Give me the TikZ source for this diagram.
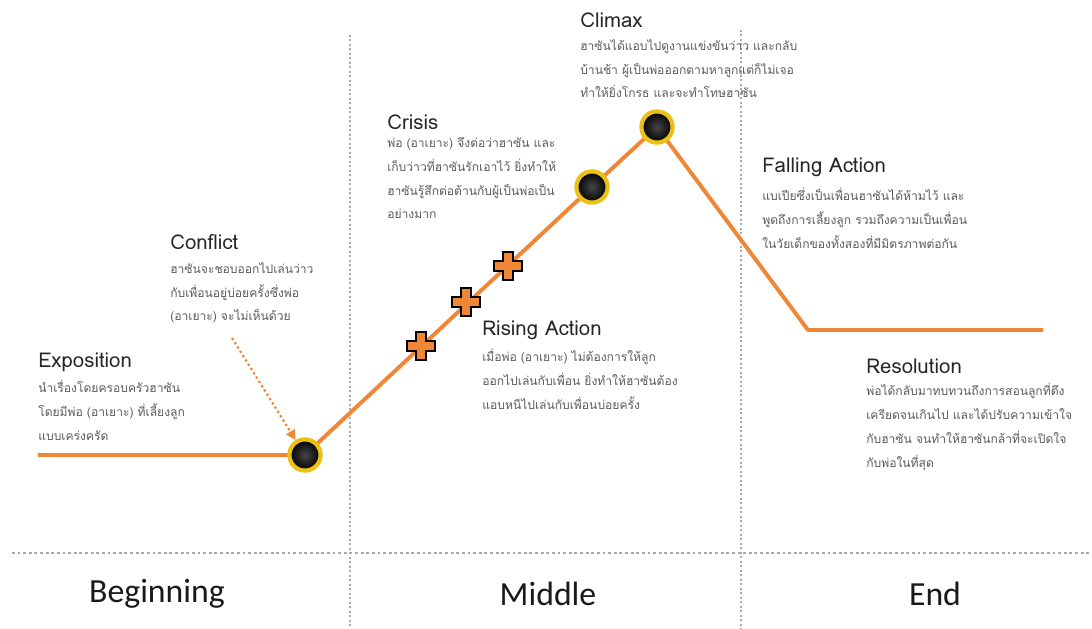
\documentclass[tikz,border=0pt]{standalone}
\usepackage{fontspec}
\setmainfont{Carlito}
\newfontfamily\thaifont[Script=Thai]{Loma}
\usepackage{xcolor}
\usetikzlibrary{shapes,arrows.meta}
\definecolor{plotorange}{RGB}{240,135,55}
\definecolor{ringgold}{RGB}{236,192,20}
\definecolor{guidegray}{RGB}{170,170,170}
\definecolor{bodygray}{RGB}{90,90,90}
\tikzstyle{head} = [anchor=west, inner sep=0pt, font=\thaifont\fontsize{14.5}{16}\selectfont, text=black!85]
\tikzstyle{note} = [anchor=north west, inner sep=0pt, align=left, font=\thaifont\fontsize{8.6}{17}\selectfont, text=bodygray]
\tikzstyle{part} = [inner sep=0pt, font=\fontsize{24}{28}\selectfont, text=black!90]
\tikzstyle{dot} = [circle, draw=ringgold, line width=3pt, minimum size=0.78cm, inner color=gray!55!black, outer color=black]
\tikzstyle{plotline} = [draw=plotorange, line width=2.8pt, line join=round]
\tikzstyle{guide} = [draw=guidegray, dotted, line width=1.2pt]
\tikzstyle{cross} = [draw=black, fill=plotorange, line width=1.8pt, line join=miter]
\tikzstyle{hint} = [draw=plotorange, dotted, line width=1.6pt, -{Triangle[length=7pt,width=7pt]}]

\begin{document}
\begin{tikzpicture}[x=0.025cm, y=-0.025cm]
\useasboundingbox (0,0) rectangle (1092,629);
% guides
\draw [guide] (350,35) -- (350,629);
\draw [guide] (741,30) -- (741,629);
\draw [guide, line width=2pt] (12,553) -- (1092,553);
\node [part] (beginning) at (157,594) {Beginning};
\node [part] (middle) at (548,594) {Middle};
\node [part] (end) at (935,594) {End};
% plot
\coordinate (start) at (38,455);
\coordinate (p-conflict) at (305,455);
\coordinate (p-crisis) at (592,187);
\coordinate (p-climax) at (657,127);
\coordinate (p-fall) at (808,330);
\coordinate (stop) at (1043,330);
\path [plotline] (start) -- (p-conflict) -- (p-crisis) -- (p-climax) -- (p-fall) -- (stop);
\foreach \cx/\cy in {421/346, 466/302, 508/266}
  \draw [cross, shift={(\cx,\cy)}] (-5,-14) -- (5,-14) -- (5,-5) -- (14,-5) -- (14,5) -- (5,5) -- (5,14) -- (-5,14) -- (-5,5) -- (-14,5) -- (-14,-5) -- (-5,-5) -- cycle;
\node [dot] (conflict-dot) at (p-conflict) {};
\node [dot] (crisis-dot) at (p-crisis) {};
\node [dot] (climax-dot) at (p-climax) {};
\coordinate (conflict-tail) at (232,338);
\path [hint] (conflict-tail) -- (conflict-dot);
% labels
\node [head] (exposition) at (38,362) {Exposition};
\node [note] (exposition-text) at (38,380) {นำเรื่องโดยครอบครัวฮาซัน\\โดยมีพ่อ (อาเยาะ) ที่เลี้ยงลูก\\แบบเคร่งครัด};
\node [head] (conflict) at (170,242) {Conflict};
\node [note] (conflict-text) at (170,262) {ฮาซันจะชอบออกไปเล่นว่าว\\กับเพื่อนอยู่บ่อยครั้งซึ่งพ่อ\\(อาเยาะ) จะไม่เห็นด้วย};
\node [head] (crisis) at (387,122) {Crisis};
\node [note] (crisis-text) at (387,137) {พ่อ (อาเยาะ) จึงต่อว่าฮาซัน และ\\เก็บว่าวที่ฮาซันรักเอาไว้ ยิ่งทำให้\\ฮาซันรู้สึกต่อต้านกับผู้เป็นพ่อเป็น\\อย่างมาก};
\node [head] (climax) at (580,20) {Climax};
\node [note] (climax-text) at (580,39) {ฮาซันได้แอบไปดูงานแข่งขันว่าว และกลับ\\บ้านช้า ผู้เป็นพ่อออกตามหาลูกแต่ก็ไม่เจอ\\ทำให้ยิ่งโกรธ และจะทำโทษฮาซัน};
\node [head] (rising) at (482,330) {Rising Action};
\node [note] (rising-text) at (482,349) {เมื่อพ่อ (อาเยาะ) ไม่ต้องการให้ลูก\\ออกไปเล่นกับเพื่อน ยิ่งทำให้ฮาซันต้อง\\แอบหนีไปเล่นกับเพื่อนบ่อยครั้ง};
\node [head] (falling) at (762,167) {Falling Action};
\node [note] (falling-text) at (762,188) {แบเปียซึ่งเป็นเพื่อนฮาซันได้ห้ามไว้ และ\\พูดถึงการเลี้ยงลูก รวมถึงความเป็นเพื่อน\\ในวัยเด็กของทั้งสองที่มีมิตรภาพต่อกัน};
\node [head] (resolution) at (866,366) {Resolution};
\node [note] (resolution-text) at (866,383) {พ่อได้กลับมาทบทวนถึงการสอนลูกที่ตึง\\เครียดจนเกินไป และได้ปรับความเข้าใจ\\กับฮาซัน จนทำให้ฮาซันกล้าที่จะเปิดใจ\\กับพ่อในที่สุด};
\end{tikzpicture}
\end{document}
